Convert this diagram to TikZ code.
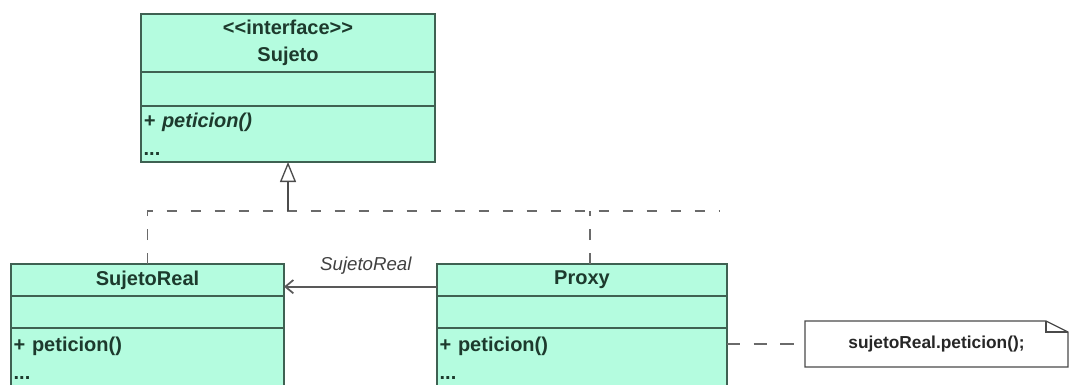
\documentclass[tikz,border=0pt]{standalone}
\usepackage{fontspec}
\setmainfont{Liberation Sans}
\usetikzlibrary{arrows.meta,positioning}
\definecolor{UmlFill}{HTML}{B4FCDF}
\definecolor{UmlBorder}{HTML}{3F6152}
\definecolor{UmlText}{HTML}{1D3A2D}
\definecolor{LinkGray}{HTML}{6A6A6A}
\definecolor{NoteBorder}{HTML}{4A4A4A}
\tikzset{
  classhead/.style={draw=UmlBorder,fill=UmlFill,line width=1pt,outer sep=0pt,inner sep=0pt,align=center,text=UmlText,font=\bfseries\fontsize{15}{20}\selectfont},
  classpart/.style={draw=UmlBorder,fill=UmlFill,line width=1pt,outer sep=0pt,inner sep=0pt},
  classops/.style={draw=UmlBorder,fill=UmlFill,line width=1pt,outer sep=0pt,inner xsep=2pt,inner ysep=0pt,align=left,text=UmlText,font=\bfseries\fontsize{15}{21}\selectfont},
  notebox/.style={outer sep=0pt,inner sep=0pt,align=center,text=black!85,font=\bfseries\fontsize{13}{15}\selectfont},
  noteline/.style={draw=NoteBorder,line width=1pt,fill=white},
  realizes/.style={draw=LinkGray,line width=1.2pt,dash pattern=on 8pt off 10pt},
  notelink/.style={draw=LinkGray,line width=1.2pt,dash pattern=on 10pt off 10pt},
  generalizes/.style={-{Triangle[open,length=15pt,width=12pt]},draw=black!70,line width=1pt},
  assoc/.style={-{Straight Barb[length=6pt,width=10pt]},draw=black!65,line width=1.3pt}
}
\begin{document}
\begin{tikzpicture}[x=0.75pt,y=-0.75pt]
\useasboundingbox (0,0) rectangle (1071,385);
% interface
\node[classhead,anchor=north west,minimum width=220.5pt,minimum height=43.5pt] (sujetohead) at (141,14) {<{}<interface>{}>\\Sujeto};
\node[classpart,below=0pt of sujetohead,minimum width=220.5pt,minimum height=25.5pt] (sujetoattr) {};
\node[classops,below=0pt of sujetoattr,text width=216.5pt,minimum height=42pt] (sujetoops) {\itshape + peticion()\\\upshape ...};
% real subject
\node[classhead,anchor=north west,minimum width=204.75pt,minimum height=24pt] (realhead) at (11,264) {SujetoReal};
\node[classpart,below=0pt of realhead,minimum width=204.75pt,minimum height=24pt] (realattr) {};
\node[classops,below=0pt of realattr,text width=200.75pt,minimum height=45pt] (realops) {+ peticion()\\...};
% proxy
\node[classhead,anchor=north west,minimum width=217.5pt,minimum height=24pt] (proxyhead) at (437,264) {Proxy};
\node[classpart,below=0pt of proxyhead,minimum width=217.5pt,minimum height=24pt] (proxyattr) {};
\node[classops,below=0pt of proxyattr,text width=213.5pt,minimum height=45pt] (proxyops) {+ peticion()\\...};
% note
\node[notebox,anchor=north west,minimum width=197.25pt,minimum height=34.5pt] (nota) at (805,321) {};
\draw[noteline] (nota.north west) -- ([xshift=-16.5pt]nota.north east) -- ([yshift=-8.25pt]nota.north east) -- (nota.south east) -- (nota.south west) -- cycle;
\draw[noteline,fill=none] ([xshift=-16.5pt]nota.north east) |- ([yshift=-8.25pt]nota.north east);
\node[notebox] at (nota) {sujetoReal.peticion();};
% links
\coordinate (busend) at (720,211);
\draw[realizes] (realhead.north) |- (busend);
\draw[realizes] ([xshift=6pt]proxyhead.north) -- ([xshift=6pt]proxyhead.north |- busend);
\draw[generalizes] (sujetoops.south |- busend) -- (sujetoops.south);
\draw[assoc] ([yshift=-5pt]proxyhead.west) -- ([yshift=-5pt]realhead.east)
  node[midway,above=5pt,xshift=4pt,font=\itshape\fontsize{14}{16}\selectfont,text=black!75] {SujetoReal};
\draw[notelink] (proxyops.east |- nota.west) -- (nota.west);
\end{tikzpicture}
\end{document}
